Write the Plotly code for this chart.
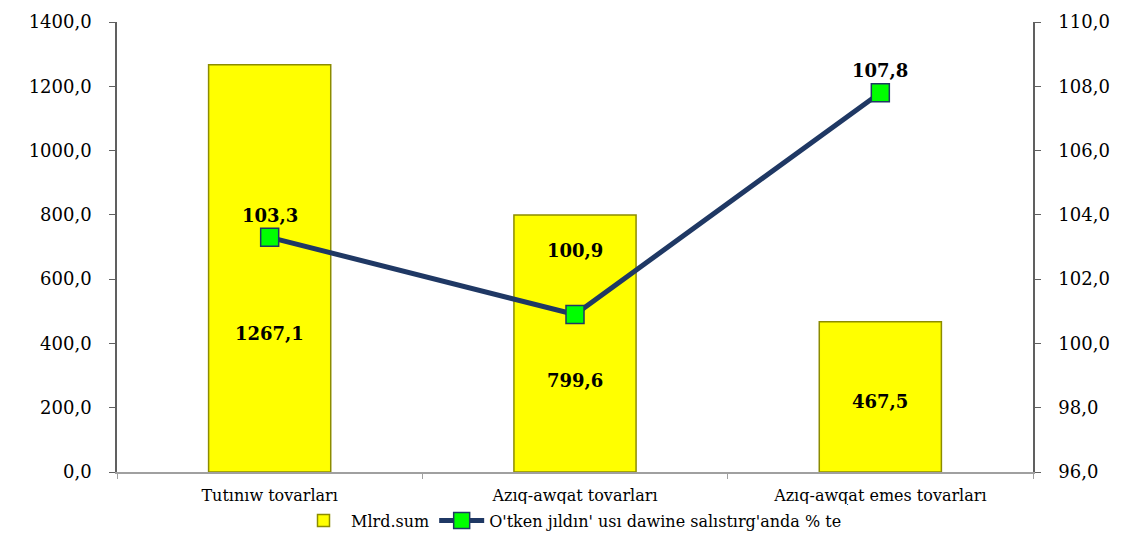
import plotly.graph_objects as go

categories = ["Tutınıw tovarları", "Azıq-awqat tovarları", "Azıq-awqat emes tovarları"]
mlrd_sum = [1267.1, 799.6, 467.5]
percent = [103.3, 100.9, 107.8]
bar_label_y = [432, 286, 218]
line_label_shift = [22, 64, 22]

bar_name = "Mlrd.sum"
line_name = "O'tken jıldın' usı dawine salıstırg'anda % te"

FONT = "DejaVu Serif"

fig = go.Figure()
fig.add_trace(go.Bar(
    x=categories, y=mlrd_sum, name=bar_name, width=0.4,
    marker=dict(color="#FFFF00", line=dict(color="#8C8C00", width=1.5)),
    yaxis="y",
))
fig.add_trace(go.Scatter(
    x=categories, y=percent, name=line_name, mode="lines+markers",
    line=dict(color="#1F3864", width=5),
    marker=dict(symbol="square", size=18, color="#00FF00", line=dict(color="#1F3864", width=1.5)),
    yaxis="y2",
))

annotations = []
for c, v, yy in zip(categories, mlrd_sum, bar_label_y):
    annotations.append(dict(x=c, y=yy, xref="x", yref="y", text="<b>" + f"{v:.1f}".replace(".", ",") + "</b>",
                            showarrow=False, font=dict(family=FONT, size=18, color="black")))
for c, v, s in zip(categories, percent, line_label_shift):
    annotations.append(dict(x=c, y=v, xref="x", yref="y2", text="<b>" + f"{v:.1f}".replace(".", ",") + "</b>",
                            showarrow=False, yshift=s, font=dict(family=FONT, size=18, color="black")))

fig.update_layout(
    width=1127, height=534,
    margin=dict(l=109, r=102, t=14, b=70, autoexpand=False),
    paper_bgcolor="white", plot_bgcolor="white",
    separators=",.",
    font=dict(family=FONT, color="black"),
    showlegend=True,
    legend=dict(orientation="h", x=0.5, xanchor="center", xref="container", y=0.04, yanchor="middle",
                yref="container", font=dict(family=FONT, size=16), itemwidth=45),
    xaxis=dict(showline=True, linecolor="#A0A0A0", linewidth=1.5, ticks="outside", tickson="boundaries",
               ticklen=5, tickcolor="#A0A0A0", tickfont=dict(family=FONT, size=16), showgrid=False,
               ticklabelstandoff=8),
    yaxis=dict(range=[0, 1400], dtick=200, tickformat=".1f", showline=True, linecolor="#606060", linewidth=1.5,
               ticks="outside", ticklen=6, tickcolor="#606060", showgrid=False, zeroline=False,
               tickfont=dict(family=FONT, size=18), ticklabelstandoff=14),
    yaxis2=dict(range=[96, 110], dtick=2, tickformat=".1f", overlaying="y", side="right", showline=True,
                linecolor="#606060", linewidth=1.5, ticks="outside", ticklen=6, tickcolor="#606060",
                showgrid=False, zeroline=False, tickfont=dict(family=FONT, size=18), ticklabelstandoff=14),
    annotations=annotations,
)

fig.write_html("out.html")
